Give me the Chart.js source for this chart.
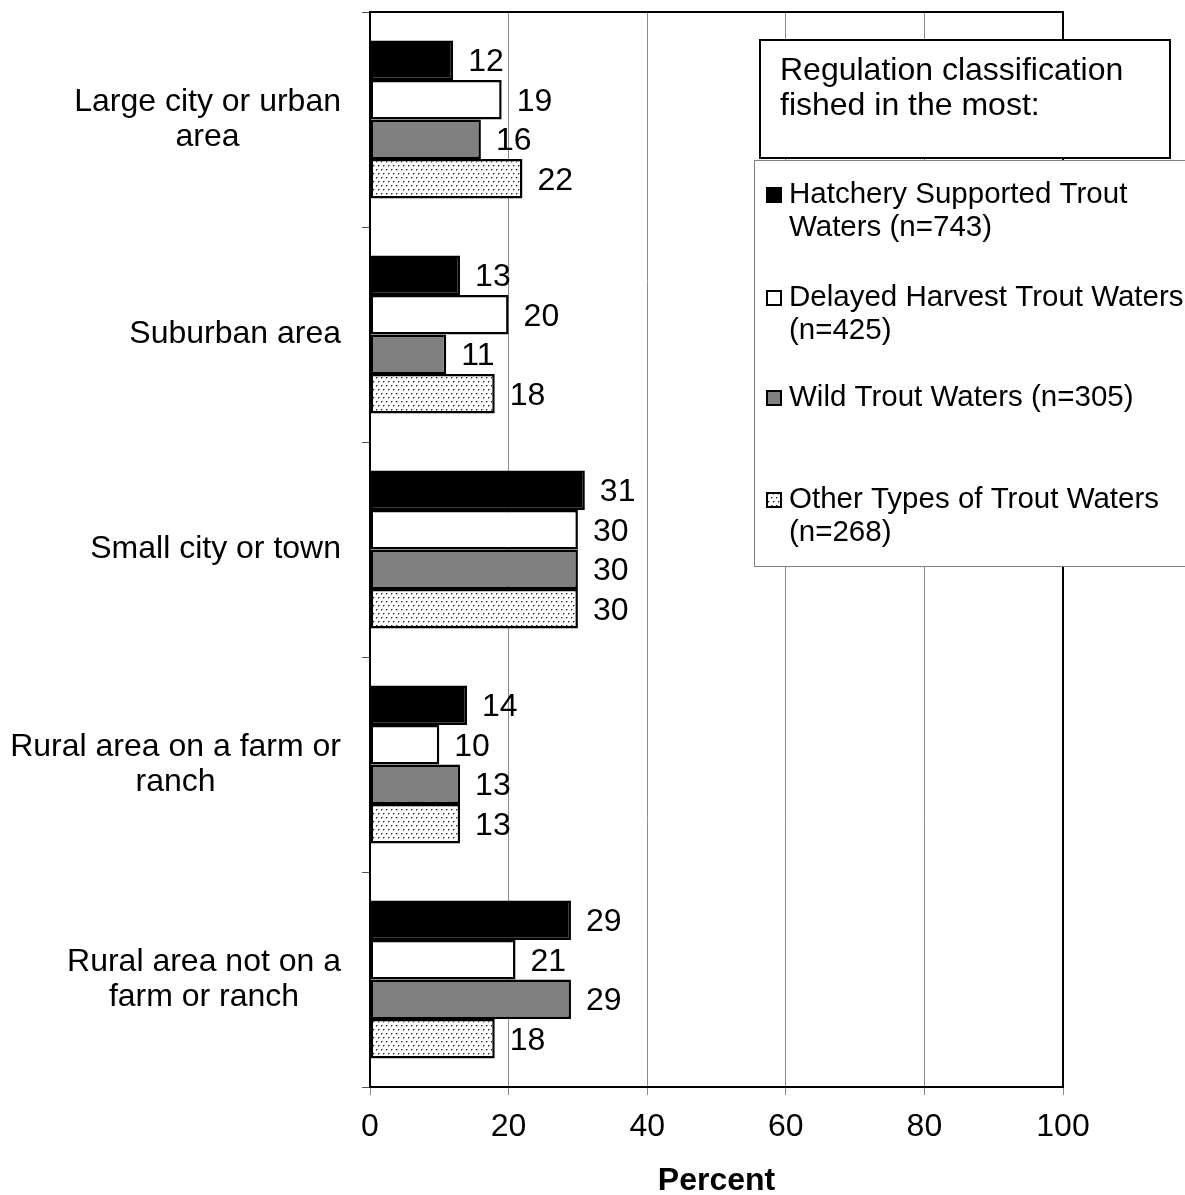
<!DOCTYPE html>
<html>
<head>
<meta charset="utf-8">
<script src="https://cdn.jsdelivr.net/npm/chart.js@4.4.1/dist/chart.umd.min.js"></script>
<style>
  html, body { margin: 0; padding: 0; background: #fff; }
  canvas { display: block; }
</style>
</head>
<body>
<canvas id="chart" width="1185" height="1195"></canvas>
<script>
// Residence type categories (multi-line labels)
const categories = [
  ["Large city or urban", "area"],
  ["Suburban area"],
  ["Small city or town"],
  ["Rural area on a farm or", "ranch"],
  ["Rural area not on a", "farm or ranch"]
];

// Percent of anglers by regulation classification fished in the most
const hatcheryValues = [12, 13, 31, 14, 29];
const delayedValues  = [19, 20, 30, 10, 21];
const wildValues     = [16, 11, 30, 13, 29];
const otherValues    = [22, 18, 30, 13, 18];

const seriesNames = [
  ["Hatchery Supported Trout", "Waters (n=743)"],
  ["Delayed Harvest Trout Waters", "(n=425)"],
  ["Wild Trout Waters (n=305)"],
  ["Other Types of Trout Waters", "(n=268)"]
];

const xTicks = [0, 20, 40, 60, 80, 100];
const legendTitle = ["Regulation classification", "fished in the most:"];
const axisTitle = "Percent";

const FONT = "'Liberation Sans', Arial, Helvetica, sans-serif";

// Stippled fill used for the last series
function makeDotPattern(g0) {
  const c = document.createElement('canvas');
  c.width = 10; c.height = 8;
  const g = c.getContext('2d');
  g.fillStyle = '#ffffff';
  g.fillRect(0, 0, 10, 8);
  const dots = [[1, 1], [6, 1], [3, 5], [8, 5]];
  dots.forEach(([x, y]) => {
    g.fillStyle = '#9a9a9a';
    g.fillRect(x + 1, y, 1, 1);
    g.fillRect(x, y + 1, 1, 1);
    g.fillStyle = '#2a2a2a';
    g.fillRect(x, y, 1, 1);
  });
  return g0.createPattern(c, 'repeat');
}
const ctx = document.getElementById('chart').getContext('2d');
const dotPattern = makeDotPattern(ctx);

const fills = ['#000000', '#ffffff', '#808080', dotPattern];
const valuesList = [hatcheryValues, delayedValues, wildValues, otherValues];

const datasets = valuesList.map((vals, i) => ({
  label: seriesNames[i].join(' '),
  data: vals,
  backgroundColor: fills[i],
  borderColor: '#000000',
  borderWidth: 2.5,
  borderSkipped: false,
  categoryPercentage: 0.735,
  barPercentage: 1.0
}));

// Category labels: right-aligned block, lines centred inside the block
const categoryLabelPlugin = {
  id: 'categoryLabels',
  afterDraw(chart) {
    const c = chart.ctx;
    const yScale = chart.scales.y;
    const lineH = 35;
    c.save();
    c.font = `32px ${FONT}`;
    c.fillStyle = '#000';
    c.textAlign = 'center';
    c.textBaseline = 'middle';
    chart.data.labels.forEach((lines, i) => {
      const yc = yScale.getPixelForTick(i);
      const widest = Math.max(...lines.map(l => c.measureText(l).width));
      const xc = 341 - widest / 2;
      const y0 = yc - (lines.length - 1) * lineH / 2;
      lines.forEach((l, k) => c.fillText(l, xc, y0 + k * lineH));
    });
    c.restore();
  }
};

// Value labels to the right of each bar
const valueLabelPlugin = {
  id: 'valueLabels',
  afterDatasetsDraw(chart) {
    const c = chart.ctx;
    c.save();
    c.font = `32px ${FONT}`;
    c.fillStyle = '#000';
    c.textAlign = 'left';
    c.textBaseline = 'middle';
    chart.data.datasets.forEach((ds, di) => {
      const meta = chart.getDatasetMeta(di);
      meta.data.forEach((bar, i) => {
        c.fillText(String(ds.data[i]), bar.x + 15, bar.y + 2);
      });
    });
    c.restore();
  }
};

// Top and right edges of the plot frame
const framePlugin = {
  id: 'frame',
  afterDatasetsDraw(chart) {
    const a = chart.chartArea;
    const c = chart.ctx;
    c.save();
    c.strokeStyle = '#000';
    c.lineWidth = 2;
    c.beginPath();
    c.moveTo(a.left, a.top);
    c.lineTo(a.right, a.top);
    c.lineTo(a.right, a.bottom);
    c.stroke();
    c.restore();
  }
};

// Legend panel with its title box
const legendPanelPlugin = {
  id: 'legendPanel',
  afterDraw(chart) {
    const c = chart.ctx;
    c.save();
    // title box
    c.fillStyle = '#fff';
    c.fillRect(760, 40, 410, 118);
    c.strokeStyle = '#000';
    c.lineWidth = 2;
    c.strokeRect(760, 40, 410, 118);
    c.font = `32px ${FONT}`;
    c.fillStyle = '#000';
    c.textAlign = 'left';
    c.textBaseline = 'middle';
    legendTitle.forEach((t, k) => c.fillText(t, 780, 71 + k * 35));

    // entries box
    c.fillStyle = '#fff';
    c.fillRect(754.5, 160.5, 440, 406);
    c.strokeStyle = '#808080';
    c.lineWidth = 1;
    c.strokeRect(754.5, 160.5, 440, 406);

    c.font = `29.5px ${FONT}`;
    const firstLineY = [195, 298, 398, 500];
    chart.data.datasets.forEach((ds, i) => {
      const y = firstLineY[i];
      c.fillStyle = ds.backgroundColor;
      c.fillRect(767, y - 7, 14, 14);
      c.strokeStyle = '#000';
      c.lineWidth = 2;
      c.strokeRect(767, y - 7, 14, 14);
      c.fillStyle = '#000';
      seriesNames[i].forEach((t, k) => c.fillText(t, 789, y + k * 33));
    });
    c.restore();
  }
};

new Chart(ctx, {
  type: 'bar',
  data: { labels: categories, datasets },
  options: {
    indexAxis: 'y',
    responsive: false,
    animation: false,
    devicePixelRatio: 1,
    layout: { padding: { top: 12, right: 122, left: 0, bottom: 0 } },
    plugins: {
      legend: { display: false },
      tooltip: { enabled: false }
    },
    scales: {
      x: {
        min: 0,
        max: 100,
        afterBuildTicks(scale) { scale.ticks = xTicks.map(v => ({ value: v })); },
        afterFit(scale) { scale.height = 108; },
        grid: {
          color: '#8c8c8c',
          lineWidth: 1,
          drawTicks: true,
          tickLength: 8,
          tickColor: '#8c8c8c'
        },
        border: { display: true, color: '#000', width: 2 },
        ticks: {
          font: { family: FONT, size: 32 },
          color: '#000',
          padding: 13
        },
        title: {
          display: true,
          text: axisTitle,
          color: '#000',
          font: { family: FONT, size: 32, weight: 'bold' },
          padding: { top: 0, bottom: -5 }
        }
      },
      y: {
        afterFit(scale) { scale.width = 370; },
        grid: {
          display: true,
          drawOnChartArea: false,
          drawTicks: true,
          tickLength: 8,
          tickColor: '#555'
        },
        border: { display: true, color: '#000', width: 2 },
        ticks: { display: false }
      }
    }
  },
  plugins: [framePlugin, valueLabelPlugin, categoryLabelPlugin, legendPanelPlugin]
});
</script>
</body>
</html>
